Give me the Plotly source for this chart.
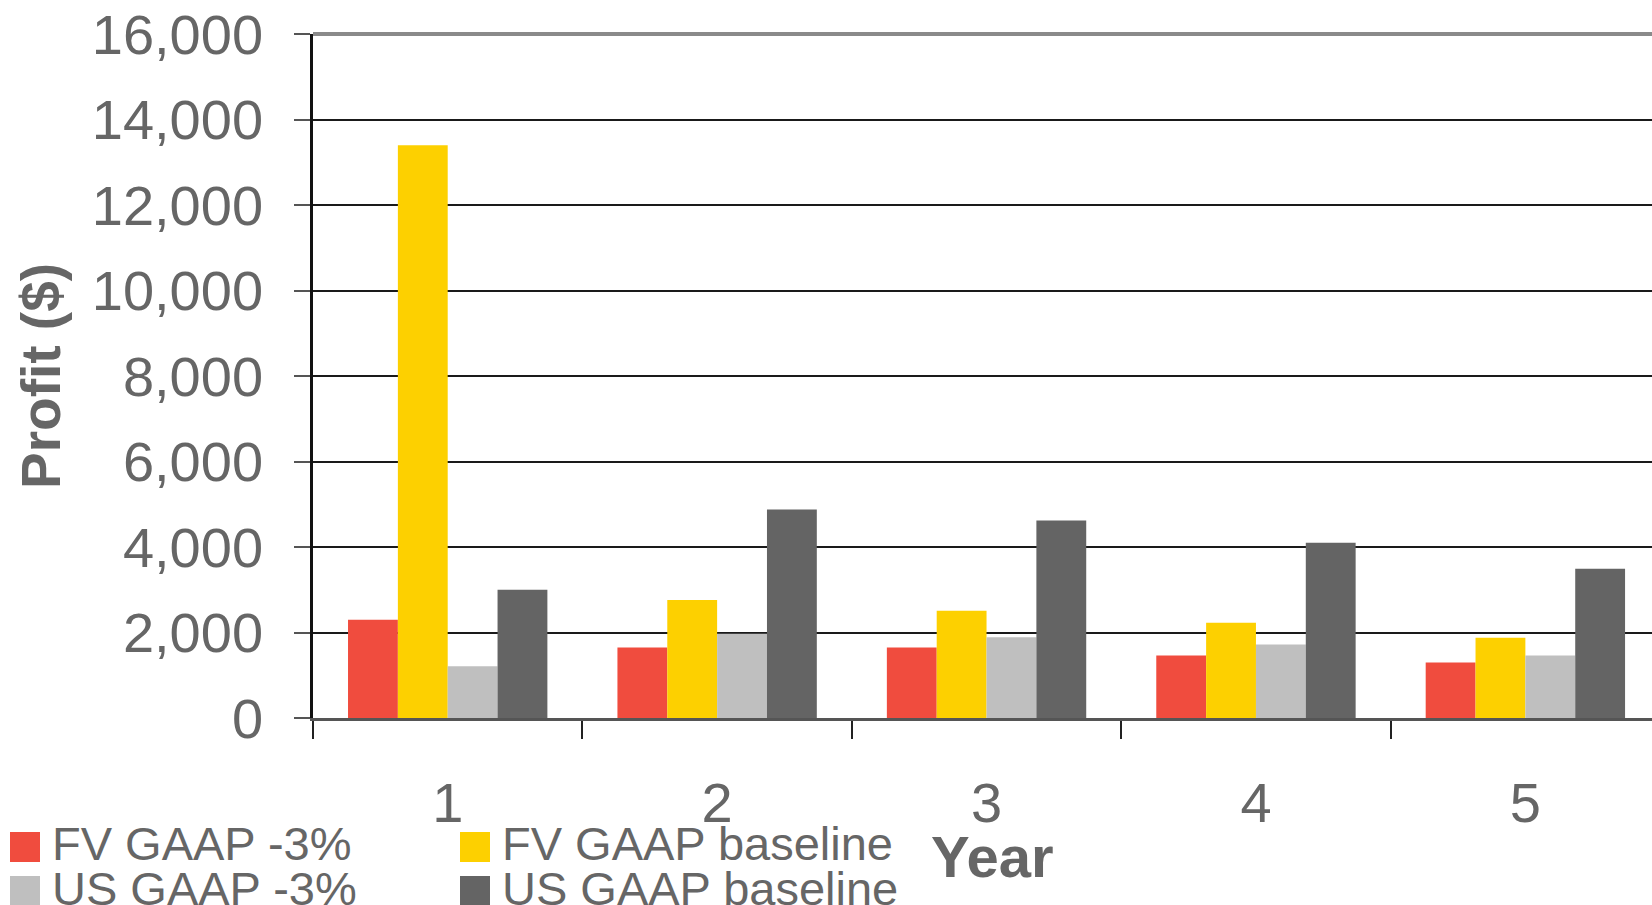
import plotly.graph_objects as go

years = ["1", "2", "3", "4", "5"]
fv_gaap_m3 = [2300, 1650, 1650, 1460, 1300]
fv_gaap_base = [13400, 2760, 2510, 2230, 1880]
us_gaap_m3 = [1210, 1970, 1890, 1720, 1460]
us_gaap_base = [3000, 4880, 4620, 4100, 3490]
series_names = ["FV GAAP -3%", "FV GAAP baseline", "US GAAP -3%", "US GAAP baseline"]
series_colors = ["#F04C3E", "#FDD000", "#BFBFBF", "#646464"]
y_ticks = [0, 2000, 4000, 6000, 8000, 10000, 12000, 14000, 16000]

W, H = 1652, 905
ML, MR, MT, MB = 313, 0, 34, 187
PW, PH = W - ML - MR, H - MT - MB

def px(x):
    return (x - ML) / PW

def py(y):
    return (H - MB - y) / PH

TXT = "#666666"
FONT = "Liberation Sans, Arial, sans-serif"

fig = go.Figure()
for name, vals, col in zip(series_names, [fv_gaap_m3, fv_gaap_base, us_gaap_m3, us_gaap_base], series_colors):
    fig.add_trace(go.Bar(x=years, y=vals, name=name, marker=dict(color=col, line=dict(width=0)),
                         showlegend=False))

# manual legend (large square swatches)
legend_pos = [(10, 832, 50), (460, 832, 500), (10, 876, 50), (460, 876, 500)]
shapes = []
annotations = []
for (sx, sy, tx), name, col in zip(legend_pos, series_names, series_colors):
    shapes.append(dict(type="rect", xref="paper", yref="paper",
                       x0=px(sx), x1=px(sx + 30), y0=py(sy), y1=py(sy + 30),
                       fillcolor=col, line=dict(width=0)))
    annotations.append(dict(xref="paper", yref="paper", x=px(tx), y=py(sy + 12),
                            xanchor="left", yanchor="middle", showarrow=False,
                            text=name, font=dict(family=FONT, size=47, color=TXT)))

# x-axis title placed below the tick labels
annotations.append(dict(xref="paper", yref="paper", x=px(993), y=py(856),
                        xanchor="center", yanchor="middle", showarrow=False,
                        text="<b>Year</b>", font=dict(family=FONT, size=58, color=TXT)))

# top border line at 16,000
shapes.append(dict(type="line", xref="paper", yref="paper", x0=0, x1=1, y0=1, y1=1,
                   line=dict(color="#8a8a8a", width=4)))

fig.update_layout(
    width=W, height=H,
    margin=dict(l=ML, r=MR, t=MT, b=MB, autoexpand=False),
    paper_bgcolor="white", plot_bgcolor="white",
    barmode="group", bargap=0.26, bargroupgap=0,
    showlegend=False,
    shapes=shapes, annotations=annotations,
    font=dict(family=FONT, color=TXT),
    xaxis=dict(
        type="category", range=[-0.5, 4.47], tickson="boundaries",
        ticks="outside", ticklen=18, tickwidth=1.5, tickcolor="#222",
        showline=True, linecolor="#555", linewidth=3,
        showgrid=False, zeroline=False,
        tickfont=dict(family=FONT, size=56, color=TXT),
        ticklabelstandoff=34,
        automargin=False,
    ),
    yaxis=dict(
        range=[0, 16000], tickvals=y_ticks, tickformat=",d",
        ticks="outside", ticklen=16, tickwidth=1.5, tickcolor="#555",
        showline=True, linecolor="#111", linewidth=2.5,
        showgrid=True, gridcolor="#1a1a1a", gridwidth=1.5,
        zeroline=False,
        tickfont=dict(family=FONT, size=56, color=TXT),
        ticklabelstandoff=20,
        title=dict(text="<b>Profit ($)</b>", font=dict(family=FONT, size=55, color=TXT), standoff=14),
        automargin=False,
    ),
)

fig.write_html("out.html")
